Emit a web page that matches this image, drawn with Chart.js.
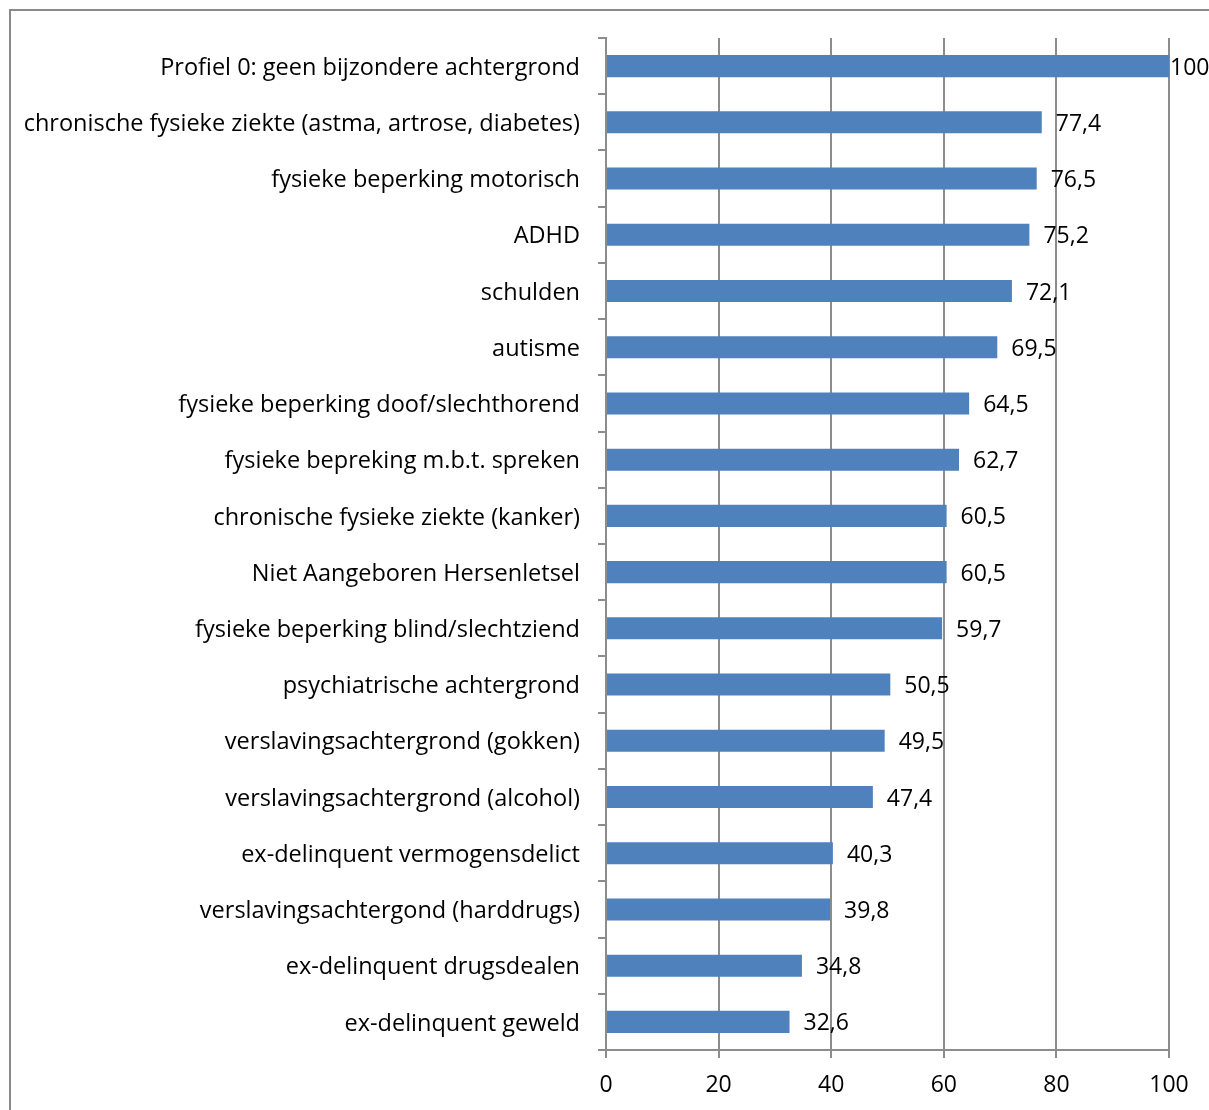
<!DOCTYPE html>
<html>
<head>
<meta charset="utf-8">
<script src="https://cdn.jsdelivr.net/npm/chart.js@4.4.0/dist/chart.umd.min.js"></script>
<style>
  html, body { margin: 0; padding: 0; background: #fff; overflow: hidden; }
  #wrap { position: relative; width: 1209px; height: 1110px; }
  #frame { position: absolute; left: 9px; top: 9px; width: 1300px; height: 1200px; border: 2px solid #8a8a8a; }
  canvas { position: absolute; left: 0; top: 0; }
</style>
</head>
<body>
<div id="wrap">
  <div id="frame"></div>
  <canvas id="chart" width="1209" height="1110"></canvas>
</div>
<script>
const categories = [
  'Profiel 0: geen bijzondere achtergrond',
  'chronische fysieke ziekte (astma, artrose, diabetes)',
  'fysieke beperking motorisch',
  'ADHD',
  'schulden',
  'autisme',
  'fysieke beperking doof/slechthorend',
  'fysieke bepreking m.b.t. spreken',
  'chronische fysieke ziekte (kanker)',
  'Niet Aangeboren Hersenletsel',
  'fysieke beperking blind/slechtziend',
  'psychiatrische achtergrond',
  'verslavingsachtergrond (gokken)',
  'verslavingsachtergrond (alcohol)',
  'ex-delinquent vermogensdelict',
  'verslavingsachtergond (harddrugs)',
  'ex-delinquent drugsdealen',
  'ex-delinquent geweld'
];
const values = [100, 77.4, 76.5, 75.2, 72.1, 69.5, 64.5, 62.7, 60.5, 60.5, 59.7, 50.5, 49.5, 47.4, 40.3, 39.8, 34.8, 32.6];
const xTicks = [0, 20, 40, 60, 80, 100];

const FONT = '"Open Sans", "Noto Sans", sans-serif';
const gridColor = '#8c8c8c';

// value labels next to each bar, comma as decimal separator
const valueLabels = {
  id: 'valueLabels',
  afterDatasetsDraw(chart) {
    const ctx = chart.ctx;
    const meta = chart.getDatasetMeta(0);
    ctx.save();
    ctx.font = '23px ' + FONT;
    ctx.fillStyle = '#000';
    ctx.textAlign = 'left';
    ctx.textBaseline = 'middle';
    meta.data.forEach((bar, i) => {
      const txt = String(values[i]).replace('.', ',');
      const x = Math.min(bar.x + 14, chart.chartArea.right + 1);
      ctx.fillText(txt, x, bar.y + 2);
    });
    ctx.restore();
  }
};

new Chart(document.getElementById('chart'), {
  type: 'bar',
  data: {
    labels: categories,
    datasets: [{
      data: values,
      backgroundColor: '#4F81BD',
      borderWidth: 0,
      barPercentage: 0.8,
      categoryPercentage: 0.49
    }]
  },
  options: {
    indexAxis: 'y',
    responsive: false,
    animation: false,
    layout: { padding: { top: 38, right: 40, left: 0, bottom: 0 } },
    plugins: { legend: { display: false }, tooltip: { enabled: false } },
    scales: {
      x: {
        min: 0,
        max: 100,
        afterBuildTicks: axis => { axis.ticks = xTicks.map(v => ({ value: v })); },
        afterFit: axis => { axis.height = 60; },
        grid: { color: gridColor, lineWidth: 2, tickLength: 8, drawTicks: true },
        border: { color: gridColor, width: 2 },
        ticks: { color: '#000', font: { family: FONT, size: 23 }, padding: 14, maxRotation: 0 }
      },
      y: {
        afterFit: axis => { axis.width = 606; },
        grid: { display: true, drawOnChartArea: false, offset: true, color: gridColor, lineWidth: 2, tickLength: 8 },
        border: { color: gridColor, width: 2 },
        ticks: { color: '#000', font: { family: FONT, size: 23.5 }, padding: 18, autoSkip: false, labelOffset: 2 }
      }
    }
  },
  plugins: [valueLabels]
});
</script>
</body>
</html>
